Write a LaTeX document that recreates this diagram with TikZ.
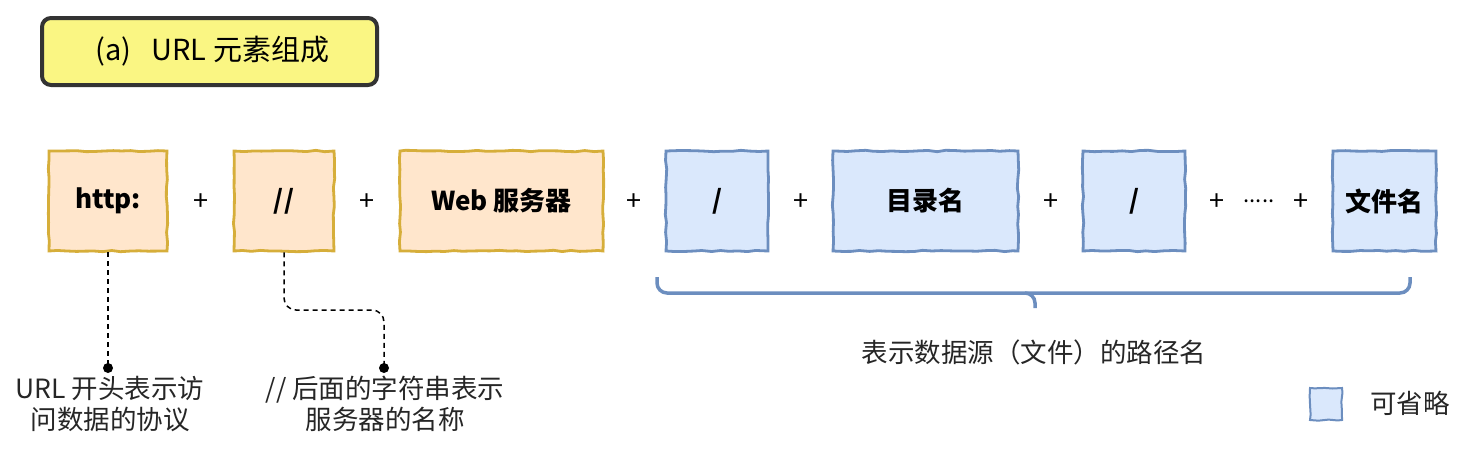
\documentclass[tikz,border=0pt]{standalone}
\usepackage{fontspec}
\setmainfont{Noto Sans CJK SC}
\usetikzlibrary{decorations.pathmorphing}
\definecolor{ofill}{HTML}{FFE6CC}
\definecolor{oline}{HTML}{D6AE3A}
\definecolor{bfill}{HTML}{DAE8FC}
\definecolor{bline}{HTML}{6C8EBF}
\definecolor{tfill}{HTML}{FAF683}
\definecolor{tline}{HTML}{333333}
\begin{document}
\begin{tikzpicture}[x=1pt,y=-1pt,
  part/.style={draw, line width=2.8pt, inner sep=0pt, minimum height=100pt,
    font=\fontsize{26}{30}\selectfont\bfseries,
    decorate, decoration={random steps, segment length=9pt, amplitude=0.7pt}},
  obox/.style={part, fill=ofill, draw=oline},
  bbox/.style={part, fill=bfill, draw=bline},
  plus/.style={font=\fontsize{27}{30}\selectfont, inner sep=0pt},
  lbl/.style={font=\fontsize{26.5}{31}\selectfont, align=center, inner sep=0pt, text=black!85},
  dotc/.style={fill=black},
  lead/.style={line width=1.5pt, dash pattern=on 5pt off 4pt}
]
\useasboundingbox (0,0) rectangle (1479,463);
% title
\node[draw=tline, fill=tfill, line width=4pt, rounded corners=9pt,
  minimum width=335pt, minimum height=67pt, font=\fontsize{29}{32}\selectfont]
  (title) at (209.5,51.5) {\hspace{6pt}(a)\hspace{20pt}URL 元素组成};
% parts
\node[obox, minimum width=118pt] (http) at (108,201) {http:};
\node[plus] (p1) at (201,202) {+};
\node[obox, minimum width=100pt] (ss) at (284,201) {//};
\node[plus] (p2) at (367,202) {+};
\node[obox, minimum width=203pt] (web) at (501.5,201) {Web 服务器};
\node[plus] (p3) at (634,202) {+};
\node[bbox, minimum width=102pt] (s1) at (717,201) {/};
\node[plus] (p4) at (801,202) {+};
\node[bbox, minimum width=185pt] (dir) at (925.5,201) {目录名};
\node[plus] (p5) at (1051,202) {+};
\node[bbox, minimum width=102pt] (s2) at (1134,201) {/};
\node[plus] (p6) at (1217,202) {+};
\node[font=\fontsize{22}{24}\selectfont, inner sep=0pt] (dots) at (1259,201) {.....};
\node[plus] (p7) at (1301,202) {+};
\node[bbox, minimum width=103pt] (file) at (1384.5,201) {文件名};
% brace
\coordinate (bl) at (657,277);
\coordinate (bm) at (1035,308);
\coordinate (br) at (1410,277);
\draw[bline, line width=3.5pt, rounded corners=10pt] (bl) |- (1035,293) -- (bm);
\draw[bline, line width=3.5pt, rounded corners=10pt] (1025,293) -| (br);
\node[lbl] (path) at (1034,352) {表示数据源（文件）的路径名};
% leaders
\coordinate (d1) at (108,368);
\coordinate (d2) at (384,368);
\draw[lead] (http.south) -- (d1);
\draw[lead, rounded corners=12pt] (ss.south) |- (384,310) -- (d2);
\fill[dotc] (d1) circle (5pt);
\fill[dotc] (d2) circle (5pt);
\node[lbl] (l1) at (110,404) {URL 开头表示访\\问数据的协议};
\node[lbl] (l2) at (385,404) {// 后面的字符串表示\\服务器的名称};
% legend
\node[bbox, minimum width=32pt, minimum height=32pt, line width=2pt] (leg) at (1326,404) {};
\node[lbl, anchor=west] (legt) at (1370,403) {可省略};
\end{tikzpicture}
\end{document}
